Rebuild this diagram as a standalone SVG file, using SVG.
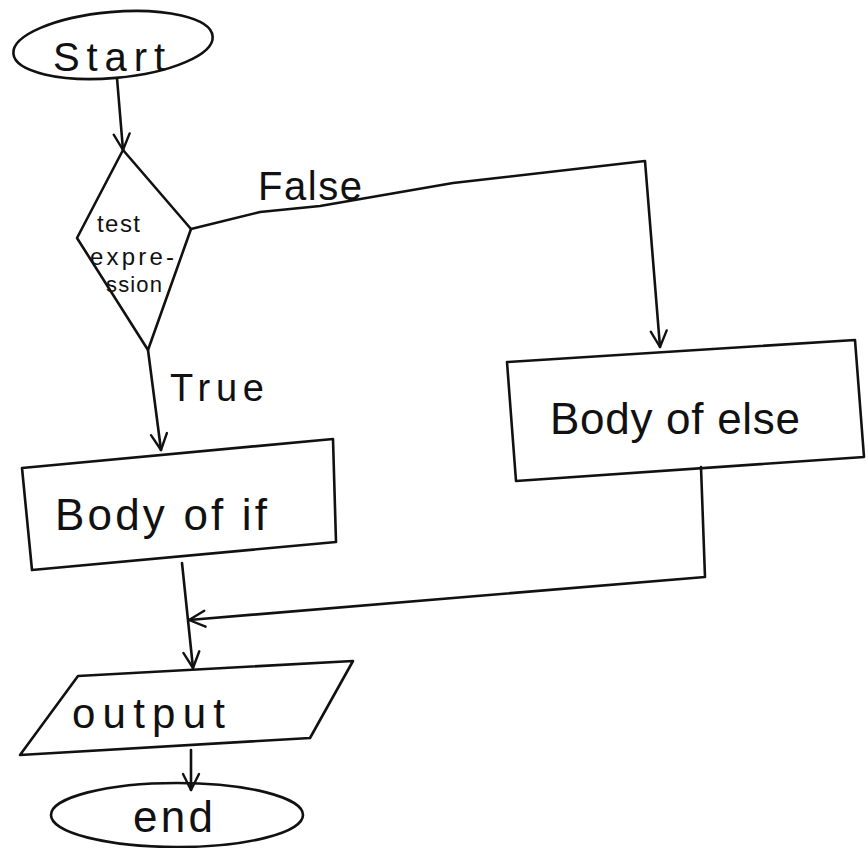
<svg xmlns="http://www.w3.org/2000/svg" width="868" height="848" viewBox="0 0 868 848">
<style>
.s{fill:none;stroke:#111;stroke-width:2.6;stroke-linejoin:round;stroke-linecap:round}
.t{font-family:"Liberation Sans",Arial,sans-serif;fill:#111}
</style>
<defs>
<marker id="ah" viewBox="0 0 20 20" refX="18" refY="10" markerWidth="20" markerHeight="20" markerUnits="userSpaceOnUse" orient="auto">
<polyline points="2,2 18,10 2,18" fill="none" stroke="#111" stroke-width="2.4" stroke-linecap="round" stroke-linejoin="round"/>
</marker>
</defs>
<rect width="868" height="848" fill="#fff"/>
<g id="start">
<ellipse class="s" cx="113" cy="45" rx="100" ry="33" transform="rotate(-5 113 45)"/>
<text class="t" x="53" y="71" font-size="40" textLength="112" lengthAdjust="spacing">Start</text>
</g>
<g id="decision">
<polygon class="s" points="123,150 191,229 148,350 77,238"/>
<text class="t" x="97" y="232" font-size="24" textLength="43" lengthAdjust="spacing">test</text>
<text class="t" x="90" y="265" font-size="24" textLength="84" lengthAdjust="spacing">expre-</text>
<text class="t" x="106" y="292" font-size="22" textLength="56" lengthAdjust="spacing">ssion</text>
</g>
<g id="body-if">
<polygon class="s" points="22,468 333,439 336,542 32,570"/>
<text class="t" x="55" y="530" font-size="44" textLength="212" lengthAdjust="spacing">Body of if</text>
</g>
<g id="body-else">
<polygon class="s" points="507,362 855,340 864,457 516,481"/>
<text class="t" x="550" y="434" font-size="44" textLength="250" lengthAdjust="spacing">Body of else</text>
</g>
<g id="output">
<polygon class="s" points="78,676 353,661 310,738 20,755"/>
<text class="t" x="72" y="728" font-size="42" textLength="153" lengthAdjust="spacing">output</text>
</g>
<g id="end">
<ellipse class="s" cx="177" cy="815" rx="126" ry="32"/>
<text class="t" x="133" y="832" font-size="44" textLength="80" lengthAdjust="spacing">end</text>
</g>
<g id="connectors">
<path class="s" d="M117,78 L123,150" marker-end="url(#ah)"/>
<path class="s" d="M191,229 L260,212 L320,206 L453,183 L645,161 L660,347" marker-end="url(#ah)"/>
<text class="t" x="258" y="200" font-size="40" textLength="104" lengthAdjust="spacing">False</text>
<path class="s" d="M148,350 L161,450" marker-end="url(#ah)"/>
<text class="t" x="170" y="401" font-size="38" textLength="94" lengthAdjust="spacing">True</text>
<path class="s" d="M182,563 L193,668" marker-end="url(#ah)"/>
<path class="s" d="M701,467 L705,577 L189,620" marker-end="url(#ah)"/>
<path class="s" d="M191,750 L191,790" marker-end="url(#ah)"/>
</g>
</svg>
